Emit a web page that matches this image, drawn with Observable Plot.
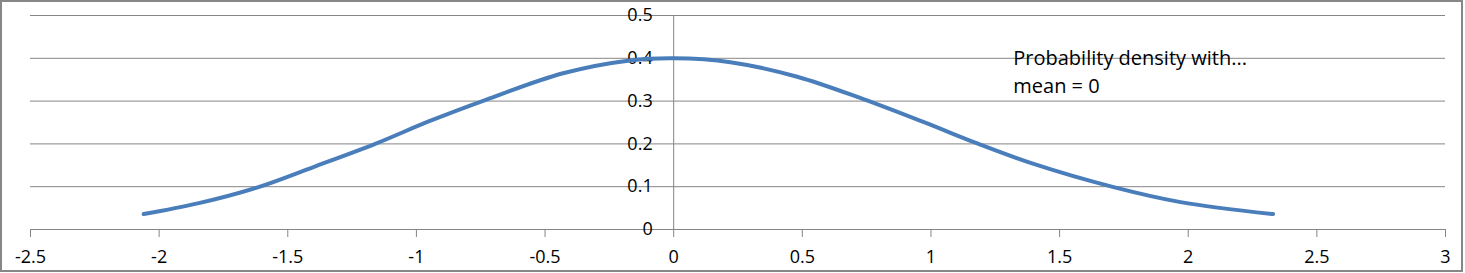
<!DOCTYPE html>
<html><head><meta charset="utf-8">
<script src="https://cdn.jsdelivr.net/npm/d3@7"></script>
<script src="https://cdn.jsdelivr.net/npm/@observablehq/plot@0.6"></script>
<style>
body{margin:0;background:#fff}
#wrap{position:relative;width:1465px;height:273px;overflow:hidden}
#border{position:absolute;left:0;top:0;width:1463px;height:272px;box-sizing:border-box;border:2.5px solid #878787;pointer-events:none}
</style></head><body><div id="wrap"><div id="border"></div></div>
<script>
const xValues = [-2.06, -1.85, -1.62, -1.40, -1.16, -0.95, -0.73, -0.43, -0.17, 0, 0.22, 0.48, 0.74, 0.98, 1.18, 1.39, 1.71, 1.97, 2.33];
const densityValues = [0.036, 0.061, 0.098, 0.146, 0.200, 0.253, 0.303, 0.365, 0.395, 0.400, 0.391, 0.357, 0.304, 0.249, 0.201, 0.155, 0.099, 0.064, 0.036];
const xTicks = [-2.5, -2, -1.5, -1, -0.5, 0, 0.5, 1, 1.5, 2, 2.5, 3];
const yTicks = [0, 0.1, 0.2, 0.3, 0.4, 0.5];
const annotationLines = ["Probability density with...", "mean = 0"];
const annotationX = 1.32;
const annotationY = 0.43;

const data = xValues.map((x, i) => ({x, y: densityValues[i]}));
const font = "'Open Sans', sans-serif";

const plot = Plot.plot({
  width: 1465,
  height: 273,
  marginLeft: 30,
  marginRight: 20,
  marginTop: 15,
  marginBottom: 44,
  x: {domain: [-2.5, 3], axis: null},
  y: {domain: [0, 0.5], axis: null},
  style: {fontFamily: font, fontSize: "18px", color: "#000", background: "transparent"},
  marks: [
    Plot.ruleY(yTicks, {stroke: "#868686", strokeWidth: 1}),
    Plot.ruleX([0], {stroke: "#868686", strokeWidth: 1}),
    Plot.axisX({ticks: xTicks, tickSize: 8, tickPadding: 13, tickFormat: d => String(d), stroke: "#868686", fill: "#000", label: null, fontSize: 18}),
    Plot.text(yTicks, {x: 0, y: d => d, text: d => String(d), textAnchor: "end", dx: -21, fill: "#000", fontSize: 18}),
    Plot.line(data, {x: "x", y: "y", stroke: "#4A7EBB", strokeWidth: 4, strokeLinecap: "round", curve: "catmull-rom"}),
    Plot.text([annotationLines.join("\n")], {x: annotationX, y: annotationY, text: d => d, textAnchor: "start", lineAnchor: "top", lineHeight: 1.38, fill: "#000", fontSize: 20})
  ]
});
document.getElementById("wrap").prepend(plot);
</script>
</body></html>
